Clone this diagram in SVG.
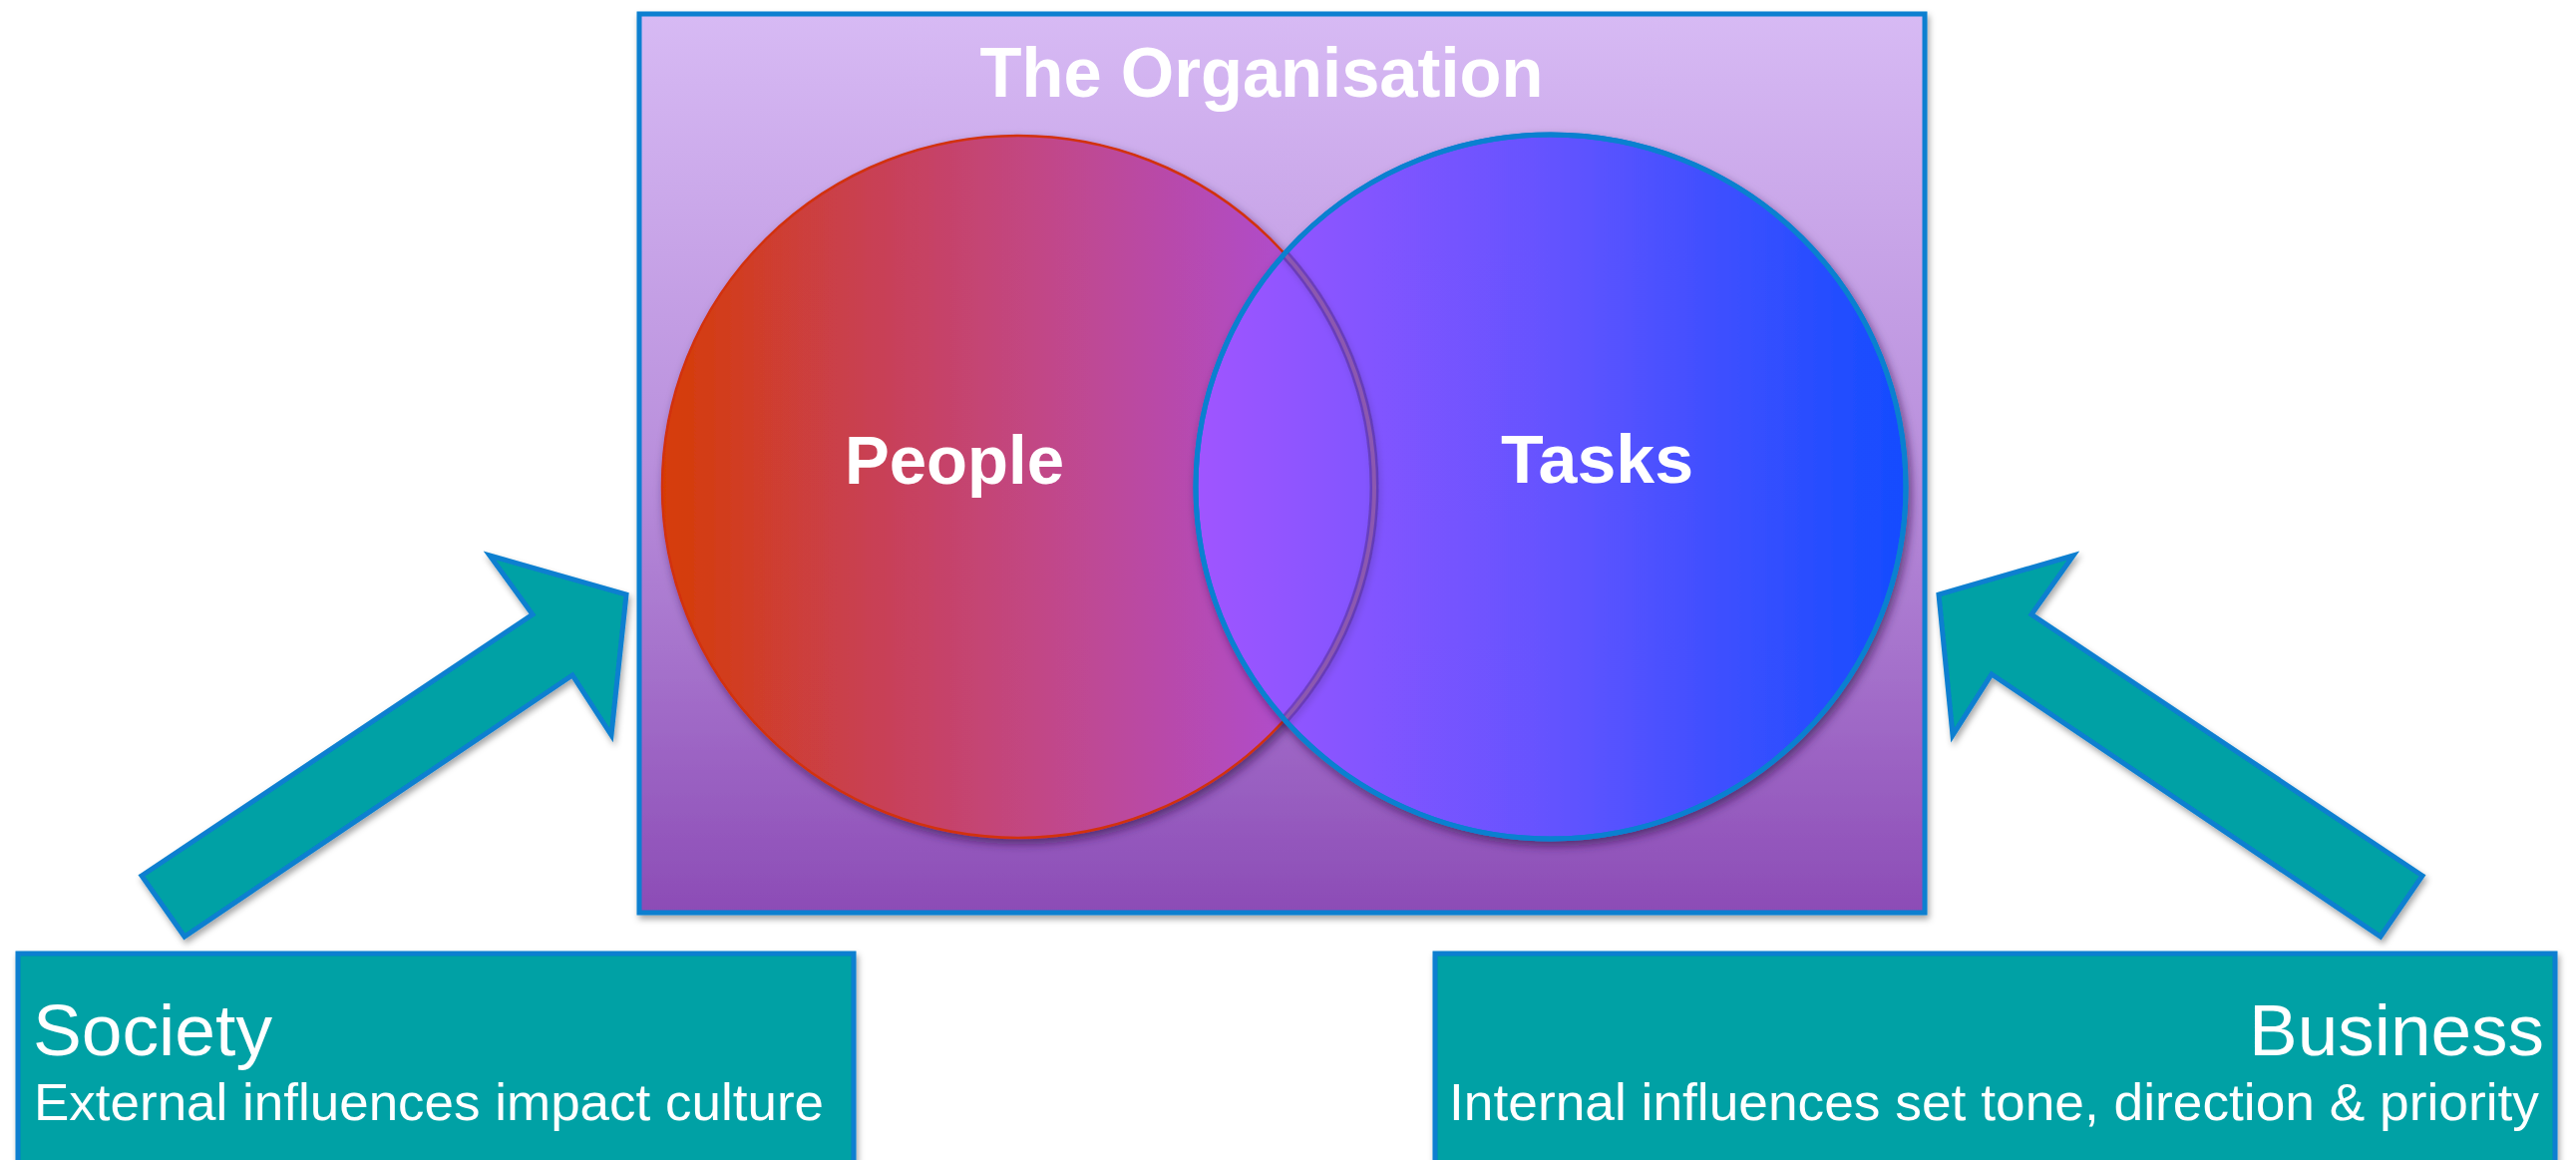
<svg xmlns="http://www.w3.org/2000/svg" width="2583" height="1163" viewBox="0 0 2583 1163">
  <defs>
    <linearGradient id="orgFill" x1="0" y1="0" x2="0" y2="1">
      <stop offset="0" stop-color="#d7baf4"/>
      <stop offset="0.5" stop-color="#b98fdc"/>
      <stop offset="1" stop-color="#8c4cb6"/>
    </linearGradient>
    <linearGradient id="peopleFill" x1="0" y1="0" x2="1" y2="0">
      <stop offset="0" stop-color="#d63d05"/>
      <stop offset="0.25" stop-color="#ca3f4a"/>
      <stop offset="0.55" stop-color="#c1478a"/>
      <stop offset="1" stop-color="#a84fe4"/>
    </linearGradient>
    <linearGradient id="tasksFill" x1="0" y1="0" x2="1" y2="0">
      <stop offset="0" stop-color="#a055ff"/>
      <stop offset="0.5" stop-color="#6453ff"/>
      <stop offset="1" stop-color="#144cff"/>
    </linearGradient>
    <filter id="softShadow" x="-10%" y="-10%" width="120%" height="120%">
      <feDropShadow dx="2" dy="4" stdDeviation="3" flood-color="#000" flood-opacity="0.35"/>
    </filter>
    <filter id="circleShadow" x="-10%" y="-10%" width="120%" height="120%">
      <feDropShadow dx="3" dy="5" stdDeviation="5" flood-color="#2a0d45" flood-opacity="0.6"/>
    </filter>
    <clipPath id="tasksClip">
      <ellipse cx="1555" cy="488" rx="354" ry="351"/>
    </clipPath>
    <style>
      .box { fill: #00a1a5; stroke: #0a7fd0; stroke-width: 5; }
      .arrow { fill: #00a1a5; stroke: #0a7fd0; stroke-width: 5; stroke-linejoin: miter; }
      .title { font-family: "Liberation Sans", Arial, sans-serif; font-weight: bold; fill: #ffffff; }
      .label { font-family: "Liberation Sans", Arial, sans-serif; fill: #ffffff; }
    </style>
  </defs>

  <rect width="2583" height="1163" fill="#ffffff"/>

  <!-- The organisation frame -->
  <g id="organisation">
    <rect x="641" y="14" width="1289" height="901" fill="url(#orgFill)" stroke="#0a7fd0" stroke-width="5" filter="url(#softShadow)"/>
    <text class="title" x="1265" y="97" font-size="70" text-anchor="middle" textLength="565" lengthAdjust="spacingAndGlyphs">The Organisation</text>
  </g>

  <!-- People circle -->
  <g id="people">
    <ellipse cx="1021" cy="488" rx="357" ry="352" fill="url(#peopleFill)" stroke="#d2300f" stroke-width="2.5" filter="url(#circleShadow)"/>
  </g>

  <!-- Tasks circle, drawn over the people circle -->
  <g id="tasks">
    <ellipse cx="1555" cy="488" rx="356" ry="353" fill="url(#tasksFill)" stroke="#0a80d0" stroke-width="5" filter="url(#circleShadow)"/>
    <!-- edge of the people circle showing through the overlap -->
    <g clip-path="url(#tasksClip)">
      <ellipse cx="1021" cy="488" rx="357" ry="352" fill="none" stroke="#3a1f5a" stroke-opacity="0.35" stroke-width="9" filter="url(#softShadow)"/>
      <ellipse cx="1021" cy="488" rx="357" ry="352" fill="none" stroke="#8c58b0" stroke-width="4"/>
    </g>
    <ellipse cx="1555" cy="488" rx="356" ry="353" fill="none" stroke="#0a80d0" stroke-width="5"/>
  </g>

  <g id="people-label">
    <text class="title" x="847" y="485" font-size="69" textLength="220" lengthAdjust="spacingAndGlyphs">People</text>
  </g>
  <g id="tasks-label">
    <text class="title" x="1505" y="484" font-size="68" textLength="193" lengthAdjust="spacingAndGlyphs">Tasks</text>
  </g>

  <!-- Influence arrows -->
  <g id="connectors">
    <polygon class="arrow" filter="url(#softShadow)" points="142,878 534,616 491,557 628,596 613,737 574,677 185,939"/>
    <polygon class="arrow" filter="url(#softShadow)" points="2429,878 2037,616 2079,557 1944,596 1958,737 1997,676 2387,939"/>
  </g>

  <!-- Society box -->
  <g id="society">
    <rect class="box" x="18" y="956" width="838" height="222" filter="url(#softShadow)"/>
    <text class="label" x="33" y="1058" font-size="73" textLength="240" lengthAdjust="spacingAndGlyphs">Society</text>
    <text class="label" x="34" y="1123" font-size="52" textLength="792" lengthAdjust="spacingAndGlyphs">External influences impact culture</text>
  </g>

  <!-- Business box -->
  <g id="business">
    <rect class="box" x="1439" y="956" width="1123" height="222" filter="url(#softShadow)"/>
    <text class="label" x="2551" y="1058" font-size="73" text-anchor="end" textLength="296" lengthAdjust="spacingAndGlyphs">Business</text>
    <text class="label" x="2546" y="1123" font-size="52" text-anchor="end" textLength="1093" lengthAdjust="spacingAndGlyphs">Internal influences set tone, direction &amp; priority</text>
  </g>
</svg>
